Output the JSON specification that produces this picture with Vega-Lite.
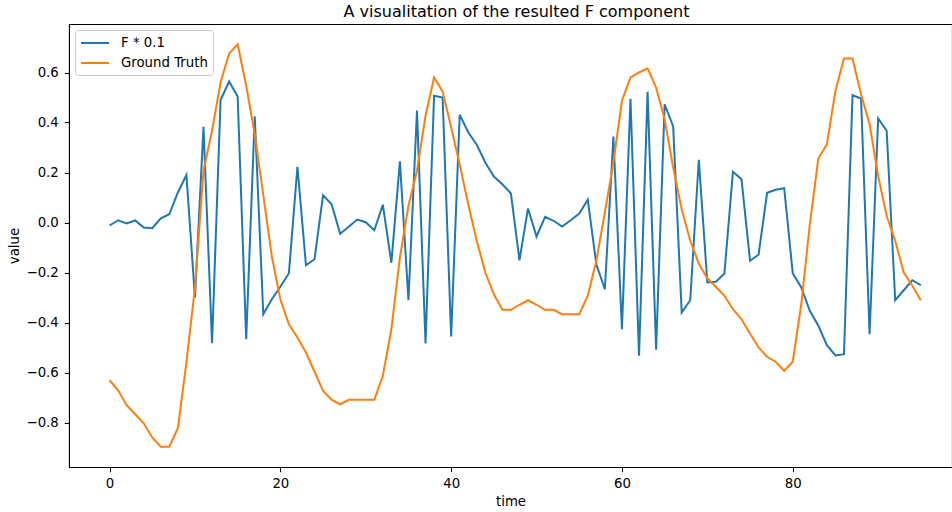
{
"$schema": "https://vega.github.io/schema/vega-lite/v6.json",
"autosize": {"type": "none"},
"width": 883,
"height": 443,
"padding": {"left": 69, "top": 24, "right": 0, "bottom": 45},
"background": "white",
"config": {
  "font": "DejaVu Sans",
  "view": {"stroke": "#000", "strokeWidth": 1.07},
  "axis": {"grid": false, "domainColor": "#000", "domainWidth": 1.07, "tickColor": "#000", "tickWidth": 1.07, "tickSize": 4.7, "labelColor": "#000", "labelFontSize": 13.3, "labelFont": "DejaVu Sans", "titleFont": "DejaVu Sans", "titleFontSize": 13.3, "titleFontWeight": "normal", "titleColor": "#000"}
},
"title": {"text": "A visualitation of the resulted F component", "font": "DejaVu Sans", "fontSize": 16, "fontWeight": "normal", "color": "#000", "anchor": "middle", "offset": 4, "dx": 6},
"data": {"values": [
{"time":0,"series":"F * 0.1","value":-0.012},{"time":1,"series":"F * 0.1","value":0.009},{"time":2,"series":"F * 0.1","value":-0.004},{"time":3,"series":"F * 0.1","value":0.008},{"time":4,"series":"F * 0.1","value":-0.02},{"time":5,"series":"F * 0.1","value":-0.023},{"time":6,"series":"F * 0.1","value":0.017},{"time":7,"series":"F * 0.1","value":0.033},{"time":8,"series":"F * 0.1","value":0.12},{"time":9,"series":"F * 0.1","value":0.19},
{"time":10,"series":"F * 0.1","value":-0.3},{"time":11,"series":"F * 0.1","value":0.383},{"time":12,"series":"F * 0.1","value":-0.483},{"time":13,"series":"F * 0.1","value":0.49},{"time":14,"series":"F * 0.1","value":0.564},{"time":15,"series":"F * 0.1","value":0.504},{"time":16,"series":"F * 0.1","value":-0.467},{"time":17,"series":"F * 0.1","value":0.425},{"time":18,"series":"F * 0.1","value":-0.367},{"time":19,"series":"F * 0.1","value":-0.307},
{"time":20,"series":"F * 0.1","value":-0.257},{"time":21,"series":"F * 0.1","value":-0.203},{"time":22,"series":"F * 0.1","value":0.223},{"time":23,"series":"F * 0.1","value":-0.171},{"time":24,"series":"F * 0.1","value":-0.147},{"time":25,"series":"F * 0.1","value":0.109},{"time":26,"series":"F * 0.1","value":0.073},{"time":27,"series":"F * 0.1","value":-0.045},{"time":28,"series":"F * 0.1","value":-0.017},{"time":29,"series":"F * 0.1","value":0.012},
{"time":30,"series":"F * 0.1","value":0.001},{"time":31,"series":"F * 0.1","value":-0.031},{"time":32,"series":"F * 0.1","value":0.071},{"time":33,"series":"F * 0.1","value":-0.161},{"time":34,"series":"F * 0.1","value":0.245},{"time":35,"series":"F * 0.1","value":-0.311},{"time":36,"series":"F * 0.1","value":0.448},{"time":37,"series":"F * 0.1","value":-0.484},{"time":38,"series":"F * 0.1","value":0.507},{"time":39,"series":"F * 0.1","value":0.5},
{"time":40,"series":"F * 0.1","value":-0.456},{"time":41,"series":"F * 0.1","value":0.431},{"time":42,"series":"F * 0.1","value":0.361},{"time":43,"series":"F * 0.1","value":0.311},{"time":44,"series":"F * 0.1","value":0.24},{"time":45,"series":"F * 0.1","value":0.184},{"time":46,"series":"F * 0.1","value":0.153},{"time":47,"series":"F * 0.1","value":0.116},{"time":48,"series":"F * 0.1","value":-0.151},{"time":49,"series":"F * 0.1","value":0.056},
{"time":50,"series":"F * 0.1","value":-0.056},{"time":51,"series":"F * 0.1","value":0.023},{"time":52,"series":"F * 0.1","value":0.007},{"time":53,"series":"F * 0.1","value":-0.016},{"time":54,"series":"F * 0.1","value":0.009},{"time":55,"series":"F * 0.1","value":0.036},{"time":56,"series":"F * 0.1","value":0.091},{"time":57,"series":"F * 0.1","value":-0.167},{"time":58,"series":"F * 0.1","value":-0.267},{"time":59,"series":"F * 0.1","value":0.344},
{"time":60,"series":"F * 0.1","value":-0.427},{"time":61,"series":"F * 0.1","value":0.495},{"time":62,"series":"F * 0.1","value":-0.533},{"time":63,"series":"F * 0.1","value":0.523},{"time":64,"series":"F * 0.1","value":-0.509},{"time":65,"series":"F * 0.1","value":0.473},{"time":66,"series":"F * 0.1","value":0.384},{"time":67,"series":"F * 0.1","value":-0.36},{"time":68,"series":"F * 0.1","value":-0.311},{"time":69,"series":"F * 0.1","value":0.251},
{"time":70,"series":"F * 0.1","value":-0.24},{"time":71,"series":"F * 0.1","value":-0.237},{"time":72,"series":"F * 0.1","value":-0.204},{"time":73,"series":"F * 0.1","value":0.203},{"time":74,"series":"F * 0.1","value":0.173},{"time":75,"series":"F * 0.1","value":-0.153},{"time":76,"series":"F * 0.1","value":-0.129},{"time":77,"series":"F * 0.1","value":0.119},{"time":78,"series":"F * 0.1","value":0.131},{"time":79,"series":"F * 0.1","value":0.137},
{"time":80,"series":"F * 0.1","value":-0.203},{"time":81,"series":"F * 0.1","value":-0.26},{"time":82,"series":"F * 0.1","value":-0.353},{"time":83,"series":"F * 0.1","value":-0.413},{"time":84,"series":"F * 0.1","value":-0.491},{"time":85,"series":"F * 0.1","value":-0.532},{"time":86,"series":"F * 0.1","value":-0.527},{"time":87,"series":"F * 0.1","value":0.509},{"time":88,"series":"F * 0.1","value":0.496},{"time":89,"series":"F * 0.1","value":-0.447},
{"time":90,"series":"F * 0.1","value":0.416},{"time":91,"series":"F * 0.1","value":0.367},{"time":92,"series":"F * 0.1","value":-0.311},{"time":93,"series":"F * 0.1","value":-0.271},{"time":94,"series":"F * 0.1","value":-0.231},{"time":95,"series":"F * 0.1","value":-0.251},
{"time":0,"series":"Ground Truth","value":-0.631},{"time":1,"series":"Ground Truth","value":-0.671},{"time":2,"series":"Ground Truth","value":-0.731},{"time":3,"series":"Ground Truth","value":-0.767},{"time":4,"series":"Ground Truth","value":-0.803},{"time":5,"series":"Ground Truth","value":-0.86},{"time":6,"series":"Ground Truth","value":-0.897},{"time":7,"series":"Ground Truth","value":-0.897},{"time":8,"series":"Ground Truth","value":-0.823},{"time":9,"series":"Ground Truth","value":-0.56},
{"time":10,"series":"Ground Truth","value":-0.26},{"time":11,"series":"Ground Truth","value":0.207},{"time":12,"series":"Ground Truth","value":0.367},{"time":13,"series":"Ground Truth","value":0.56},{"time":14,"series":"Ground Truth","value":0.676},{"time":15,"series":"Ground Truth","value":0.713},{"time":16,"series":"Ground Truth","value":0.547},{"time":17,"series":"Ground Truth","value":0.353},{"time":18,"series":"Ground Truth","value":0.11},{"time":19,"series":"Ground Truth","value":-0.135},
{"time":20,"series":"Ground Truth","value":-0.307},{"time":21,"series":"Ground Truth","value":-0.407},{"time":22,"series":"Ground Truth","value":-0.46},{"time":23,"series":"Ground Truth","value":-0.52},{"time":24,"series":"Ground Truth","value":-0.597},{"time":25,"series":"Ground Truth","value":-0.673},{"time":26,"series":"Ground Truth","value":-0.709},{"time":27,"series":"Ground Truth","value":-0.727},{"time":28,"series":"Ground Truth","value":-0.709},{"time":29,"series":"Ground Truth","value":-0.709},
{"time":30,"series":"Ground Truth","value":-0.709},{"time":31,"series":"Ground Truth","value":-0.709},{"time":32,"series":"Ground Truth","value":-0.613},{"time":33,"series":"Ground Truth","value":-0.427},{"time":34,"series":"Ground Truth","value":-0.14},{"time":35,"series":"Ground Truth","value":0.067},{"time":36,"series":"Ground Truth","value":0.207},{"time":37,"series":"Ground Truth","value":0.427},{"time":38,"series":"Ground Truth","value":0.58},{"time":39,"series":"Ground Truth","value":0.524},
{"time":40,"series":"Ground Truth","value":0.38},{"time":41,"series":"Ground Truth","value":0.233},{"time":42,"series":"Ground Truth","value":0.073},{"time":43,"series":"Ground Truth","value":-0.073},{"time":44,"series":"Ground Truth","value":-0.2},{"time":45,"series":"Ground Truth","value":-0.287},{"time":46,"series":"Ground Truth","value":-0.349},{"time":47,"series":"Ground Truth","value":-0.349},{"time":48,"series":"Ground Truth","value":-0.329},{"time":49,"series":"Ground Truth","value":-0.311},
{"time":50,"series":"Ground Truth","value":-0.329},{"time":51,"series":"Ground Truth","value":-0.349},{"time":52,"series":"Ground Truth","value":-0.349},{"time":53,"series":"Ground Truth","value":-0.367},{"time":54,"series":"Ground Truth","value":-0.367},{"time":55,"series":"Ground Truth","value":-0.367},{"time":56,"series":"Ground Truth","value":-0.293},{"time":57,"series":"Ground Truth","value":-0.153},{"time":58,"series":"Ground Truth","value":0.04},{"time":59,"series":"Ground Truth","value":0.24},
{"time":60,"series":"Ground Truth","value":0.487},{"time":61,"series":"Ground Truth","value":0.58},{"time":62,"series":"Ground Truth","value":0.6},{"time":63,"series":"Ground Truth","value":0.617},{"time":64,"series":"Ground Truth","value":0.54},{"time":65,"series":"Ground Truth","value":0.413},{"time":66,"series":"Ground Truth","value":0.22},{"time":67,"series":"Ground Truth","value":0.053},{"time":68,"series":"Ground Truth","value":-0.073},{"time":69,"series":"Ground Truth","value":-0.165},
{"time":70,"series":"Ground Truth","value":-0.223},{"time":71,"series":"Ground Truth","value":-0.257},{"time":72,"series":"Ground Truth","value":-0.293},{"time":73,"series":"Ground Truth","value":-0.347},{"time":74,"series":"Ground Truth","value":-0.387},{"time":75,"series":"Ground Truth","value":-0.444},{"time":76,"series":"Ground Truth","value":-0.5},{"time":77,"series":"Ground Truth","value":-0.537},{"time":78,"series":"Ground Truth","value":-0.557},{"time":79,"series":"Ground Truth","value":-0.593},
{"time":80,"series":"Ground Truth","value":-0.557},{"time":81,"series":"Ground Truth","value":-0.327},{"time":82,"series":"Ground Truth","value":-0.007},{"time":83,"series":"Ground Truth","value":0.257},{"time":84,"series":"Ground Truth","value":0.313},{"time":85,"series":"Ground Truth","value":0.527},{"time":86,"series":"Ground Truth","value":0.656},{"time":87,"series":"Ground Truth","value":0.656},{"time":88,"series":"Ground Truth","value":0.513},{"time":89,"series":"Ground Truth","value":0.393},
{"time":90,"series":"Ground Truth","value":0.187},{"time":91,"series":"Ground Truth","value":0.027},{"time":92,"series":"Ground Truth","value":-0.073},{"time":93,"series":"Ground Truth","value":-0.2},{"time":94,"series":"Ground Truth","value":-0.253},{"time":95,"series":"Ground Truth","value":-0.311}
]},
"mark": {"type": "line", "strokeWidth": 2, "clip": true},
"encoding": {
  "x": {"field": "time", "type": "quantitative", "title": "time",
        "scale": {"domain": [-4.75, 98.65], "nice": false, "zero": false},
        "axis": {"values": [0, 20, 40, 60, 80], "format": "d", "labelPadding": 4.7, "titlePadding": 5}},
  "y": {"field": "value", "type": "quantitative", "title": "value",
        "scale": {"domain": [-0.978, 0.794], "nice": false, "zero": false},
        "axis": {"values": [-0.8, -0.6, -0.4, -0.2, 0, 0.2, 0.4, 0.6], "format": ".1f", "labelPadding": 6, "titlePadding": 5}},
  "color": {"field": "series", "type": "nominal",
            "scale": {"domain": ["F * 0.1", "Ground Truth"], "range": ["#1f77b4", "#ff7f0e"]},
            "legend": {"title": null, "orient": "top-left", "offset": 6, "symbolType": "M-1,0H3", "symbolSize": 196, "symbolStrokeWidth": 2,
                       "labelFontSize": 13.3, "labelFont": "DejaVu Sans", "labelColor": "#000", "labelOffset": 25, "rowPadding": 5,
                       "fillColor": "rgba(255,255,255,0.8)", "strokeColor": "#cccccc", "cornerRadius": 3, "padding": 5}}
}
}
